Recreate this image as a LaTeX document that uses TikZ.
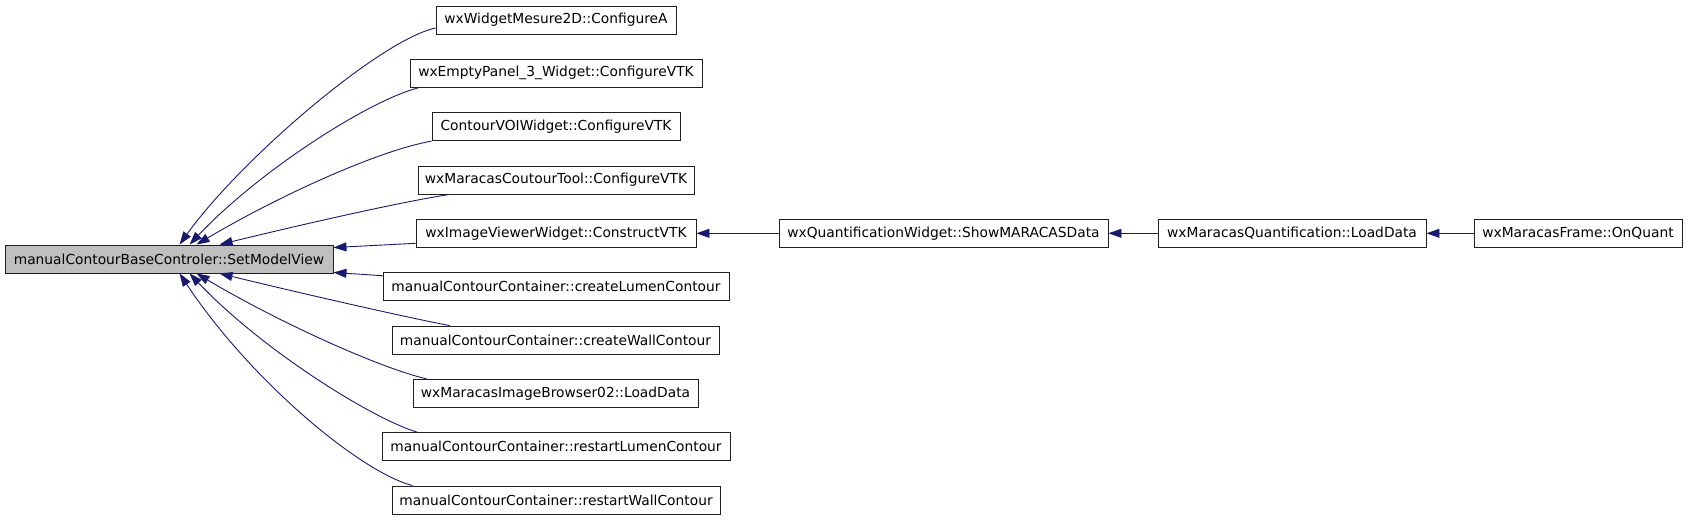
\documentclass[tikz,border=0pt]{standalone}
\usepackage{fontspec}
\setmainfont{DejaVu Sans}
\usetikzlibrary{arrows.meta,calc}
\definecolor{edgeblue}{HTML}{191970}
\definecolor{mainfill}{HTML}{BFBFBF}
\definecolor{boxline}{HTML}{202020}
\begin{document}
\begin{tikzpicture}[x=1pt,y=-1pt,
  fn/.style={draw=boxline,line width=0.9pt,minimum height=28pt,inner sep=0pt,font=\fontsize{13.8}{16}\selectfont,fill=white},
  call/.style={draw=edgeblue,line width=0.9pt,-{Triangle[length=13pt,width=9pt]}}
]
\useasboundingbox (0,0) rectangle (1691,520);
\node[fn,fill=mainfill,minimum width=328pt] (m) at (169,259) {manualContourBaseControler::SetModelView};
\node[fn,minimum width=240pt] (b1) at (556,20) {wxWidgetMesure2D::ConfigureA};
\node[fn,minimum width=292pt] (b2) at (556,73.3) {wxEmptyPanel\_3\_Widget::ConfigureVTK};
\node[fn,minimum width=248pt] (b3) at (556,126.7) {ContourVOIWidget::ConfigureVTK};
\node[fn,minimum width=276pt] (b4) at (556,180) {wxMaracasCoutourTool::ConfigureVTK};
\node[fn,minimum width=280pt] (b5) at (556,233.3) {wxImageViewerWidget::ConstructVTK};
\node[fn,minimum width=346pt] (b6) at (556,286.7) {manualContourContainer::createLumenContour};
\node[fn,minimum width=327pt] (b7) at (555.5,340) {manualContourContainer::createWallContour};
\node[fn,minimum width=285pt] (b8) at (555.5,393.3) {wxMaracasImageBrowser02::LoadData};
\node[fn,minimum width=348pt] (b9) at (556,446.7) {manualContourContainer::restartLumenContour};
\node[fn,minimum width=328pt] (b10) at (556,500) {manualContourContainer::restartWallContour};
\node[fn,minimum width=329pt] (c3) at (943.5,233.3) {wxQuantificationWidget::ShowMARACASData};
\node[fn,minimum width=268pt] (c4) at (1292,233.3) {wxMaracasQuantification::LoadData};
\node[fn,minimum width=208pt] (c5) at (1578,233.3) {wxMaracasFrame::OnQuant};

\draw[call] ($(b1.west)+(0,8)$) .. controls (380,40) and (240,160) .. ($(m.north west)+(175,0)$);
\draw[call] ($(b2.south west)+(9,0)$) .. controls (370,100) and (260,170) .. ($(m.north west)+(185,0)$);
\draw[call] (b3.south west) .. controls (380,150) and (280,195) .. ($(m.north west)+(192,0)$);
\draw[call] ($(b4.south west)+(32,0)$) .. controls (400,202) and (300,225) .. ($(m.north west)+(215,0)$);
\draw[call] ($(b5.west)+(0,10)$) -- ($(m.north east)+(0,3)$);
\draw[call] ($(b6.west)+(0,-11)$) -- ($(m.south east)+(0,-1)$);
\draw[call] ($(b7.north west)+(58,0)$) .. controls (400,316) and (300,293) .. ($(m.south west)+(215,0)$);
\draw[call] ($(b8.north west)+(14,0)$) .. controls (380,368) and (280,323) .. ($(m.south west)+(192,0)$);
\draw[call] ($(b9.north west)+(36,0)$) .. controls (370,418) and (260,348) .. ($(m.south west)+(185,0)$);
\draw[call] ($(b10.north west)+(21,0)$) .. controls (360,472) and (250,380) .. ($(m.south west)+(175,0)$);

\draw[call] (c3.west) -- (b5.east);
\draw[call] (c4.west) -- (c3.east);
\draw[call] (c5.west) -- (c4.east);
\end{tikzpicture}
\end{document}
